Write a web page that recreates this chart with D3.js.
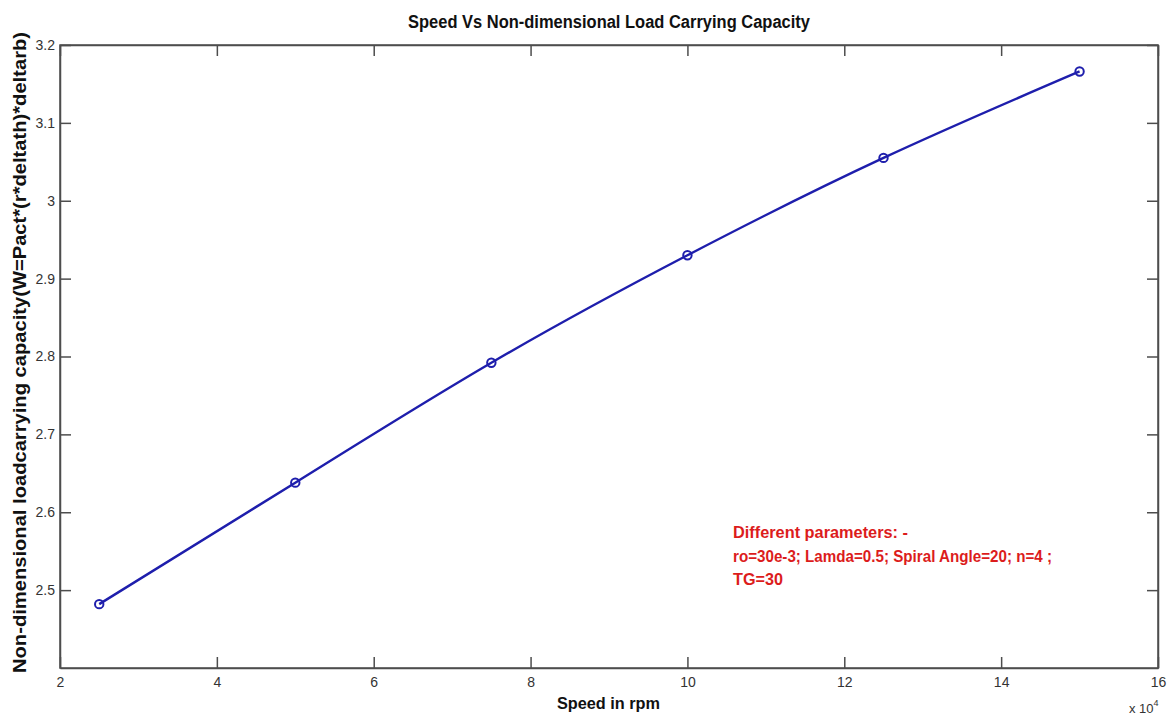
<!DOCTYPE html>
<html>
<head>
<meta charset="utf-8">
<script src="https://cdn.jsdelivr.net/npm/d3@7"></script>
<style>
  html, body { margin: 0; padding: 0; background: #fff; }
  svg { display: block; font-family: Arial, "Liberation Sans", Helvetica, sans-serif; }
</style>
</head>
<body>
<svg id="chart" width="1173" height="722"></svg>
<script>
// Speed (x 10^4 rpm) and non-dimensional load carrying capacity
const speed = [2.5, 5, 7.5, 10, 12.5, 15];
const loadCapacity = [2.482, 2.638, 2.792, 2.930, 3.055, 3.166];

const xTicks = [2, 4, 6, 8, 10, 12, 14, 16];
const yTicks = [2.5, 2.6, 2.7, 2.8, 2.9, 3.0, 3.1, 3.2];
const yTickLabels = ["2.5", "2.6", "2.7", "2.8", "2.9", "3", "3.1", "3.2"];

const titleText = "Speed Vs Non-dimensional Load Carrying Capacity";
const xLabelText = "Speed in rpm";
const yLabelText = "Non-dimensional loadcarrying capacity(W=Pact*(r*deltath)*deltarb)";
const noteLines = [
  "Different parameters: -",
  "ro=30e-3; Lamda=0.5; Spiral Angle=20; n=4 ;",
  "TG=30"
];

const svg = d3.select("#chart");
const plot = { left: 60, top: 45, right: 1158, bottom: 668 };

const x = d3.scaleLinear().domain([2, 16]).range([plot.left, plot.right]);
const y = d3.scaleLinear().domain([2.4, 3.2]).range([plot.bottom, plot.top]);

const axisColor = "#4d4d4d";
const tickLen = 11;

// Box around the axes
svg.append("rect")
  .attr("x", plot.left).attr("y", plot.top)
  .attr("width", plot.right - plot.left).attr("height", plot.bottom - plot.top)
  .attr("fill", "none").attr("stroke", axisColor).attr("stroke-width", 1.5);

// Bottom axis with inward ticks
const xAxis = d3.axisBottom(x).tickValues(xTicks).tickSizeInner(-tickLen).tickSizeOuter(0)
  .tickPadding(9).tickFormat(d3.format("d"));
const gx = svg.append("g").attr("transform", `translate(0,${plot.bottom})`).call(xAxis);
// Top axis mirrors the ticks
const gxTop = svg.append("g").attr("transform", `translate(0,${plot.top})`)
  .call(d3.axisTop(x).tickValues(xTicks).tickSizeInner(-tickLen).tickSizeOuter(0).tickFormat(""));

// Left axis with inward ticks
const yAxis = d3.axisLeft(y).tickValues(yTicks).tickSizeInner(-tickLen).tickSizeOuter(0)
  .tickPadding(5).tickFormat((d, i) => yTickLabels[i]);
const gy = svg.append("g").attr("transform", `translate(${plot.left},0)`).call(yAxis);
const gyRight = svg.append("g").attr("transform", `translate(${plot.right},0)`)
  .call(d3.axisRight(y).tickValues(yTicks).tickSizeInner(-tickLen).tickSizeOuter(0).tickFormat(""));

[gx, gxTop, gy, gyRight].forEach(g => {
  g.attr("font-size", 14).attr("font-family", "Arial, 'Liberation Sans', sans-serif");
  g.select(".domain").attr("stroke", axisColor).attr("stroke-width", 1.5);
  g.selectAll(".tick line").attr("stroke", axisColor).attr("stroke-width", 1.5);
  g.selectAll(".tick text").attr("fill", "#333");
});

// Data curve
const line = d3.line()
  .x((d, i) => x(speed[i]))
  .y(d => y(d))
  .curve(d3.curveNatural);

const blue = "#1e1eac";
svg.append("path")
  .datum(loadCapacity)
  .attr("d", line)
  .attr("fill", "none")
  .attr("stroke", blue)
  .attr("stroke-width", 2.4);

svg.selectAll("circle.pt")
  .data(loadCapacity)
  .enter().append("circle")
  .attr("class", "pt")
  .attr("cx", (d, i) => x(speed[i]))
  .attr("cy", d => y(d))
  .attr("r", 4.2)
  .attr("fill", "none")
  .attr("stroke", blue)
  .attr("stroke-width", 2);

// Title
svg.append("text")
  .attr("x", 408).attr("y", 28)
  .attr("font-size", 18).attr("font-weight", "bold").attr("fill", "#111")
  .attr("textLength", 402).attr("lengthAdjust", "spacingAndGlyphs")
  .text(titleText);

// Axis labels
svg.append("text")
  .attr("x", 557).attr("y", 709)
  .attr("font-size", 16).attr("font-weight", "bold").attr("fill", "#111")
  .attr("textLength", 103).attr("lengthAdjust", "spacingAndGlyphs")
  .text(xLabelText);

svg.append("text")
  .attr("transform", "translate(26,673) rotate(-90)")
  .attr("font-size", 18).attr("font-weight", "bold").attr("fill", "#111")
  .attr("textLength", 641).attr("lengthAdjust", "spacingAndGlyphs")
  .text(yLabelText);

// Axis multiplier
const mult = svg.append("text")
  .attr("x", 1129).attr("y", 713)
  .attr("font-size", 13).attr("fill", "#333");
mult.append("tspan").text("x 10");
mult.append("tspan").attr("font-size", 9).attr("dy", -7).text("4");

// Parameter note
const noteWidths = [175, 319, 50];
svg.selectAll("text.note")
  .data(noteLines)
  .enter().append("text")
  .attr("class", "note")
  .attr("x", 733)
  .attr("y", (d, i) => 538 + i * 23.5)
  .attr("font-size", 17).attr("font-weight", "bold").attr("fill", "#dc1c1c")
  .attr("textLength", (d, i) => noteWidths[i]).attr("lengthAdjust", "spacingAndGlyphs")
  .text(d => d);
</script>
</body>
</html>
